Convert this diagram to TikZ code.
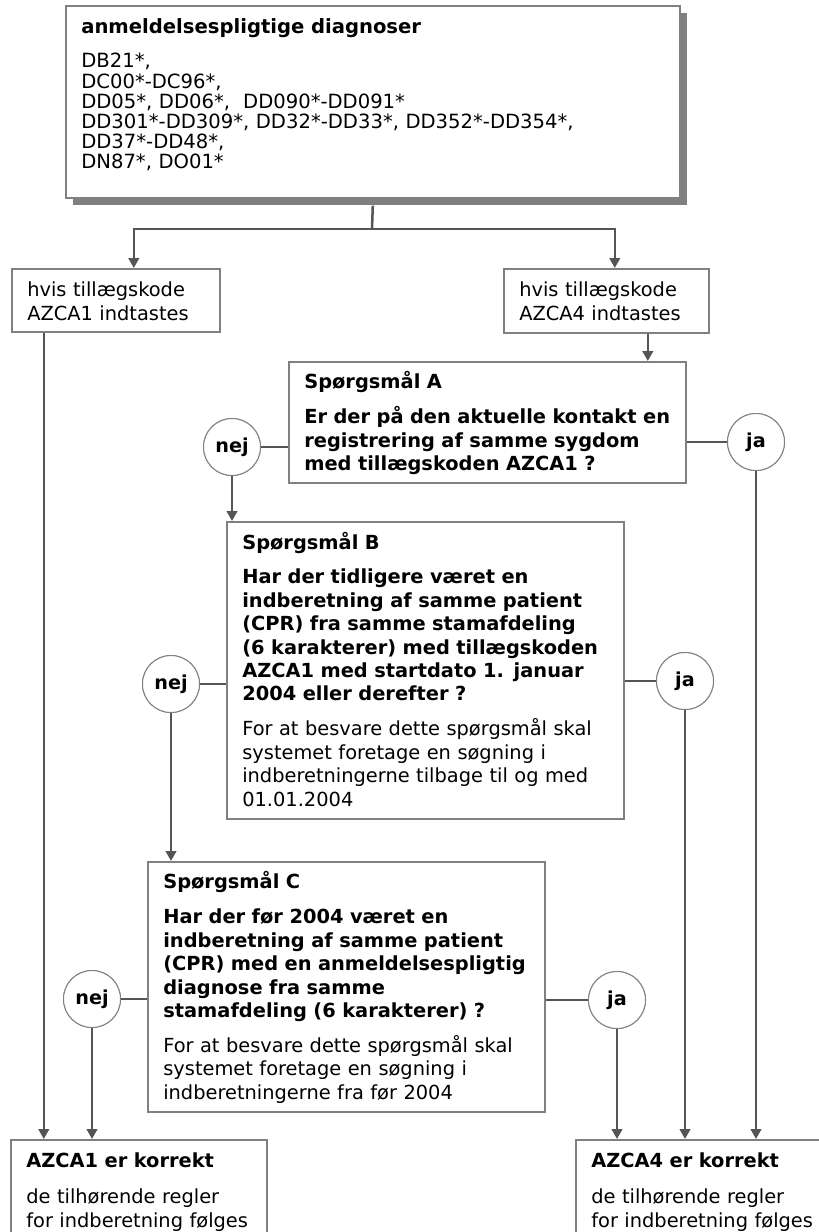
\documentclass[tikz,border=0pt]{standalone}
\usepackage{fontspec}
\setmainfont{DejaVu Sans}
\usetikzlibrary{arrows.meta,shadows}
\definecolor{boxgray}{RGB}{128,128,128}
\definecolor{linegray}{RGB}{85,85,85}
\definecolor{shadowgray}{RGB}{128,128,128}
\tikzset{
  box/.style={draw=boxgray, line width=1.6pt, fill=white, anchor=north west,
    inner xsep=15.5pt, inner ysep=0pt, align=left,
    font=\fontsize{19.4}{23.4}\selectfont},
  dot/.style={circle, draw=boxgray, line width=1pt, fill=white, minimum size=57pt,
    inner sep=0pt, font=\bfseries\fontsize{19.2}{23}\selectfont},
  conn/.style={draw=linegray, line width=2.5pt},
  arr/.style={conn, -{Triangle[length=10pt,width=10.5pt]}},
}
\begin{document}
\begin{tikzpicture}[x=1pt,y=-1pt]
\clip (0,0) rectangle (819,1232);
\fill[white] (0,0) rectangle (819,1232);

% top box
\node[box, text width=583pt, text height=28pt, text depth=164pt,
  font=\fontsize{19.6}{20.2}\selectfont,
  drop shadow={shadow xshift=7pt, shadow yshift=-7pt, fill=shadowgray, opacity=1}]
  (top) at (65,5) {\bfseries anmeldelsespligtige diagnoser\\[13.8pt]\mdseries
  DB21*,\\
  DC00*-DC96*,\\
  DD05*, DD06*, \ DD090*-DD091*\\
  DD301*-DD309*, DD32*-DD33*, DD352*-DD354*,\\
  DD37*-DD48*,\\
  DN87*, DO01*};

% hvis boxes
\node[box, text width=177pt, text height=28pt, text depth=35pt] (hvisA) at (11,268)
  {hvis tillægskode\\ AZCA1 indtastes};
\node[box, text width=174pt, text height=28pt, text depth=36pt] (hvisB) at (503,268)
  {hvis tillægskode\\ AZCA4 indtastes};

% question boxes
\node[box, text width=366pt, text height=27pt, text depth=94pt] (qA) at (288,361)
  {\bfseries Spørgsmål A\\[11.6pt]
   Er der på den aktuelle kontakt en\\
   registrering af samme sygdom\\
   med tillægskoden AZCA1 ?};
\node[box, text width=366pt, text height=28pt, text depth=269pt] (qB) at (226,521)
  {\bfseries Spørgsmål B\\[10.6pt]
   Har der tidligere været en\\
   indberetning af samme patient\\
   (CPR) fra samme stamafdeling\\
   (6 karakterer) med tillægskoden\\
   AZCA1 med startdato 1. januar\\
   2004 eller derefter ?\\[11.6pt]\mdseries
   For at besvare dette spørgsmål skal\\
   systemet foretage en søgning i\\
   indberetningerne tilbage til og med\\
   01.01.2004};
\node[box, text width=366pt, text height=27pt, text depth=223pt] (qC) at (147,861)
  {\bfseries Spørgsmål C\\[11.6pt]
   Har der før 2004 været en\\
   indberetning af samme patient\\
   (CPR) med en anmeldelsespligtig\\
   diagnose fra samme\\
   stamafdeling (6 karakterer) ?\\[11.6pt]\mdseries
   For at besvare dette spørgsmål skal\\
   systemet foretage en søgning i\\
   indberetningerne fra før 2004};

% result boxes
\node[box, text width=225pt, text height=28pt, text depth=100pt] (resA) at (10,1139)
  {\bfseries AZCA1 er korrekt\\[12.6pt]\mdseries
   de tilhørende regler\\ for indberetning følges};
\node[box, text width=239pt, text height=28pt, text depth=100pt] (resB) at (575,1139)
  {\bfseries AZCA4 er korrekt\\[12.6pt]\mdseries
   de tilhørende regler\\ for indberetning følges};

% answer circles
\node[dot] (nejA) at (232,447) {nej};
\node[dot] (jaA)  at (756,442) {ja};
\node[dot] (nejB) at (171,684) {nej};
\node[dot] (jaB)  at (685,681) {ja};
\node[dot] (nejC) at (92,999)  {nej};
\node[dot] (jaC)  at (617,1000) {ja};

% connectors
\coordinate (split) at (372,229);
\draw[conn] ([yshift=-7pt]top.south) -- (split);
\draw[arr] (split) -| ([xshift=18pt]hvisA.north);
\draw[arr] (split) -| ([xshift=8.5pt]hvisB.north);
\draw[arr] ([xshift=41.5pt]hvisB.south) -- ([xshift=41.5pt]hvisB.south |- qA.north);
\draw[arr] ([xshift=-72pt]hvisA.south) -- ([xshift=-72pt]hvisA.south |- resA.north);

\draw[conn] (nejA) -- (nejA -| qA.west);
\draw[conn] (jaA) -- (jaA -| qA.east);
\draw[arr] (nejA.south) -- (nejA |- qB.north);
\draw[arr] (jaA.south) -- (jaA |- resB.north);

\draw[conn] (nejB) -- (nejB -| qB.west);
\draw[conn] (jaB) -- (jaB -| qB.east);
\draw[arr] (nejB.south) -- (nejB |- qC.north);
\draw[arr] (jaB.south) -- (jaB |- resB.north);

\draw[conn] (nejC) -- (nejC -| qC.west);
\draw[conn] (jaC) -- (jaC -| qC.east);
\draw[arr] (nejC.south) -- (nejC |- resA.north);
\draw[arr] (jaC.south) -- (jaC |- resB.north);

% redraw circles above connector ends
\node[dot] at (nejA) {nej};
\node[dot] at (jaA) {ja};
\node[dot] at (nejB) {nej};
\node[dot] at (jaB) {ja};
\node[dot] at (nejC) {nej};
\node[dot] at (jaC) {ja};
\end{tikzpicture}
\end{document}
